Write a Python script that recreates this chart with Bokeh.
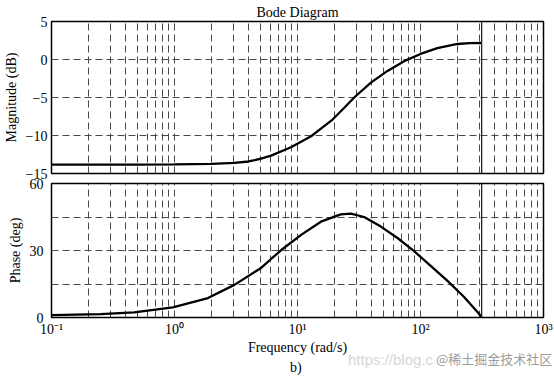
from bokeh.plotting import figure
from bokeh.layouts import column
from bokeh.models import FixedTicker, Span, CustomJSTickFormatter, Range1d, Div
from bokeh.embed import file_html
from bokeh.resources import INLINE

# ---- data ----
freq_mag = [0.1, 0.3, 0.5, 1.0, 2.0, 3.07, 4.0, 5.06, 6.1, 8.85, 12.9, 15.5, 19.3,
            24.0, 28.9, 39.5, 53.9, 73.6, 100.0, 137.0, 200.0, 250.0, 314.16]
mag_db = [-13.82, -13.82, -13.82, -13.8, -13.73, -13.6, -13.42, -13.05, -12.65, -11.55,
          -10.1, -9.09, -7.9, -6.35, -5.0, -3.05, -1.5, -0.22, 0.73, 1.5, 2.04, 2.15,
          2.17]

freq_phase = [0.1, 0.25, 0.47, 0.97, 1.87, 3.07, 5.06, 6.1, 7.34, 10.7, 15.5, 22.5,
              27.2, 34.8, 47.6, 65.0, 88.7, 121.0, 165.0, 225.0, 298.0, 314.16]
phase_deg = [1.1, 1.5, 2.3, 4.5, 8.7, 14.6, 22.2, 26.2, 30.1, 37.0, 42.9, 46.2,
             46.5, 45.0, 40.7, 35.6, 29.7, 23.1, 16.5, 9.3, 1.8, 0.0]

nyquist_freq = 314.16

x_major = [0.1, 1.0, 10.0, 100.0, 1000.0]
x_tick_labels = ["10⁻¹", "10⁰", "10¹", "10²", "10³"]
x_minor = [m * 10.0 ** d for d in range(-1, 3) for m in range(2, 10)]
mag_ticks = [-15, -10, -5, 0, 5]
phase_ticks = [0, 30, 60]
phase_minor = [15, 45]

title_text = "Bode Diagram"
panel_text = "b)"
watermark_url = "https://blog.c"
watermark_site = "@稀土掘金技术社区"

FONT = "Liberation Serif"
GRID = "#4a4a4a"
DASH = "7 4"


def style(p, yticks, yminor):
    p.outline_line_color = "black"
    p.outline_line_width = 1.5
    p.background_fill_color = "white"
    xt = FixedTicker(ticks=x_major, minor_ticks=x_minor)
    p.xaxis.ticker = xt
    p.xgrid.ticker = xt
    yt = FixedTicker(ticks=yticks, minor_ticks=yminor)
    p.yaxis.ticker = yt
    p.ygrid.ticker = yt
    for g in (p.xgrid, p.ygrid):
        g.grid_line_color = GRID
        g.grid_line_dash = DASH
        g.grid_line_width = 1
        g.minor_grid_line_color = GRID
        g.minor_grid_line_dash = DASH
        g.minor_grid_line_width = 1
    for ax in (p.xaxis, p.yaxis):
        ax.major_tick_line_color = None
        ax.minor_tick_line_color = None
        ax.axis_line_color = None
        ax.major_label_text_font = FONT
        ax.major_label_text_font_size = "14px"
        ax.major_label_text_color = "black"
        ax.axis_label_text_font = FONT
        ax.axis_label_text_font_size = "14px"
        ax.axis_label_text_font_style = "normal"
        ax.axis_label_text_color = "black"
        ax.major_tick_out = 0
        ax.major_tick_in = 0
    p.yaxis.major_label_standoff = 4
    p.yaxis.axis_label_standoff = 4
    p.add_layout(Span(location=nyquist_freq, dimension="height",
                      line_color="#222222", line_width=1.3))


p1 = figure(width=554, height=185, x_axis_type="log", title=title_text,
            x_range=Range1d(0.1, 1000), y_range=Range1d(-15, 5),
            min_border_left=50, min_border_right=11, min_border_top=20,
            min_border_bottom=12, output_backend="svg", toolbar_location=None)
style(p1, mag_ticks, [])
p1.border_fill_color = "white"
p1.title.align = "center"
p1.title.text_font = FONT
p1.title.text_font_size = "14px"
p1.title.text_font_style = "normal"
p1.title.text_color = "black"
p1.title.standoff = 4
p1.xaxis.visible = False
p1.yaxis.axis_label = "Magnitude (dB)"
p1.yaxis.major_label_overrides = {-15: "−15", -10: "−10", -5: "−5"}
p1.line(freq_mag, mag_db, line_color="black", line_width=2.3)

p2 = figure(width=554, height=185, x_axis_type="log",
            x_range=Range1d(0.1, 1000), y_range=Range1d(0, 60),
            min_border_left=50, min_border_right=11, min_border_top=10,
            min_border_bottom=41, output_backend="svg", toolbar_location=None,
            margin=(-12, 0, 0, 0))
style(p2, phase_ticks, phase_minor)
p2.border_fill_alpha = 0
p2.yaxis.axis_label = "Phase (deg)"
p2.xaxis.axis_label = "Frequency (rad/s)"
p2.xaxis.major_label_standoff = 0
p2.xaxis.axis_label_standoff = 0
p2.xaxis.formatter = CustomJSTickFormatter(
    args=dict(xvals=x_major, xlabels=x_tick_labels),
    code="""
for (let i = 0; i < xvals.length; i++) {
  if (Math.abs(xvals[i] - tick) < 1e-6 * xvals[i]) { return xlabels[i]; }
}
return "";
""")
p2.line(freq_phase, phase_deg, line_color="black", line_width=2.3)

html = (
    '<div style="position:relative;width:554px;height:33px;">'
    '<span style="position:absolute;left:348px;top:4px;white-space:nowrap;'
    'font-family:\'Liberation Sans\';font-size:15px;color:#d6d6d6;">' + watermark_url + '</span>'
    '<span style="position:absolute;left:436px;top:5px;white-space:nowrap;'
    'font-family:\'Noto Sans CJK SC\';font-size:13px;color:#9c9c9c;">' + watermark_site + '</span>'
    '<span style="position:absolute;left:290px;top:13px;white-space:nowrap;'
    'font-family:\'Liberation Serif\';font-size:14px;color:black;">' + panel_text + '</span>'
    '</div>'
)
notes = Div(text=html, width=554, height=33, margin=(-13, 0, 0, 0))

layout = column(p1, p2, notes)
open("out.html", "w").write(file_html(layout, INLINE))
